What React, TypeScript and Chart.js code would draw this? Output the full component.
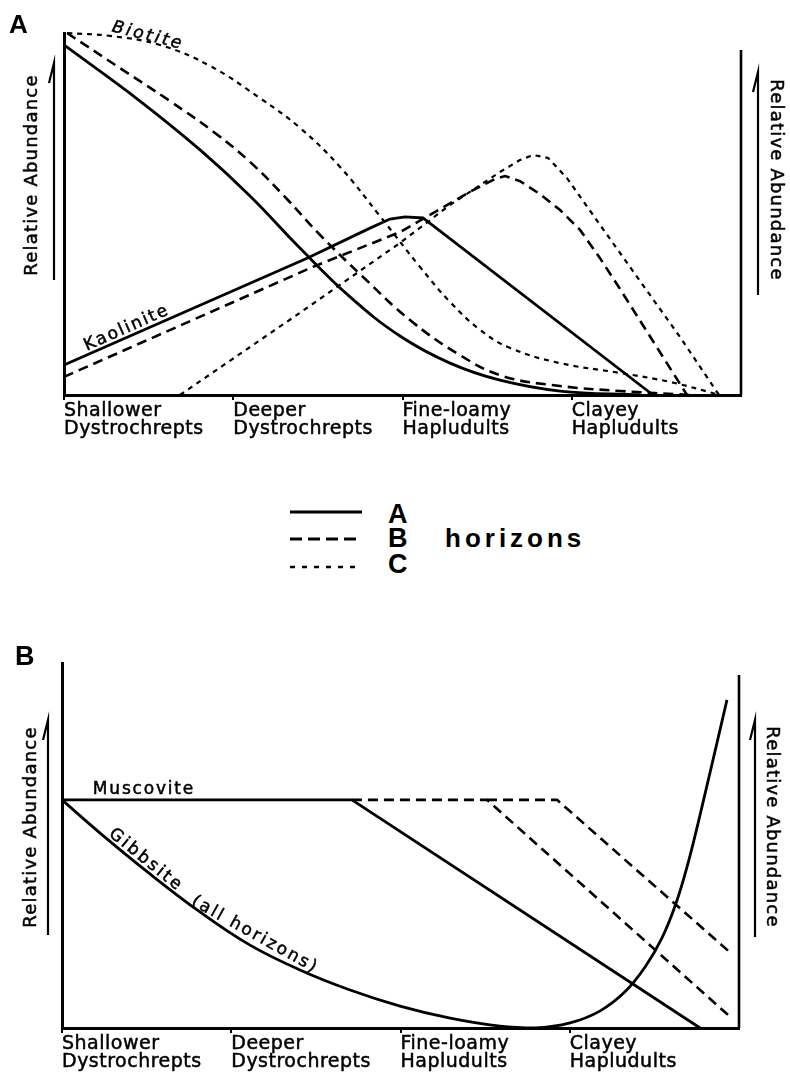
import React, { useEffect, useRef } from "react";
import { Chart, registerables } from "chart.js";

Chart.register(...registerables);

// ---------- shared categories / tick labels ----------
const categories: string[][] = [
  ["Shallower", "Dystrochrepts"],
  ["Deeper", "Dystrochrepts"],
  ["Fine-loamy", "Hapludults"],
  ["Clayey", "Hapludults"],
];
const tickPositions = [0, 1, 2, 3];
const axisTitle = "Relative Abundance";

// ---------- Panel A values (x: soil position 0..4, y: relative abundance 0..100) ----------
const biotiteA_x = [0, 0.449, 0.804, 1.099, 1.394, 1.69, 1.985, 2.281, 2.576, 2.931, 3.403];
const biotiteA_y = [96.7, 81.2, 67.7, 55.0, 40.6, 27.1, 16.3, 8.8, 4.1, 1.1, 0];
const biotiteB_x = [0.018, 0.331, 0.626, 0.892, 1.099, 1.306, 1.513, 1.767, 2.044, 2.34, 2.594, 2.931, 3.285, 3.699];
const biotiteB_y = [100, 90.3, 81.2, 72.4, 64.4, 54.7, 44.2, 32.6, 20.7, 11.0, 5.2, 2.5, 1.1, 0];
const biotiteC_x = [0.018, 0.272, 0.567, 0.863, 1.158, 1.394, 1.631, 1.867, 2.103, 2.281, 2.458, 2.635, 2.931, 3.285, 3.581, 3.876];
const biotiteC_y = [100, 99.2, 96.7, 90.9, 82.0, 73.8, 63.0, 49.4, 35.4, 25.7, 18.0, 13.0, 8.8, 6.1, 3.6, 0];

const kaolA_x = [0, 1.436, 1.808, 1.926, 2.015, 2.121, 3.48];
const kaolA_y = [8.3, 37.8, 46.1, 48.6, 49.2, 48.9, 0];
const kaolB_x = [0, 1.471, 1.985, 2.417, 2.547, 2.606, 2.694, 2.812, 2.931, 3.049, 3.167, 3.285, 3.681];
const kaolB_y = [5.0, 35.4, 45.0, 56.6, 59.7, 60.5, 59.1, 55.5, 51.1, 45.6, 37.8, 29.3, 0];
const kaolC_x = [0.685, 1.394, 1.985, 2.281, 2.576, 2.694, 2.771, 2.86, 2.972, 3.167, 3.403, 3.64, 3.87];
const kaolC_y = [0, 22.7, 42.0, 52.5, 61.6, 64.9, 66.3, 65.5, 59.9, 47.0, 31.5, 16.0, 0];

const rightAxisA_x = [4, 4];
const rightAxisA_y = [0, 95.3];

// ---------- Panel B values ----------
const gibbsite_x = [0, 0.225, 0.52, 0.815, 1.111, 1.406, 1.702, 1.997, 2.293, 2.588, 2.795, 3.002, 3.18, 3.326, 3.445, 3.545, 3.628, 3.699, 3.77, 3.929];
const gibbsite_y = [62.5, 53.4, 42.2, 31.8, 22.7, 15.9, 10.4, 6.0, 2.7, 0.5, 0, 1.4, 4.7, 9.9, 16.7, 24.7, 34.2, 45.2, 58.4, 89.9];
const muscA_x = [0, 1.713, 3.77];
const muscA_y = [62.5, 62.5, 0];
const muscB_x = [1.713, 2.511, 3.935];
const muscB_y = [62.5, 62.5, 3.6];
const muscC_x = [2.511, 2.925, 3.94];
const muscC_y = [62.5, 62.5, 21.0];

const rightAxisB_x = [4, 4];
const rightAxisB_y = [0, 96.7];

// ---------- styles ----------
const SOLID = { w: 2.8, dash: [] as number[] };
const DASH_B = { w: 2.6, dash: [10, 6] };
const DASH_C = { w: 2.2, dash: [5, 5] };
const FONT = '"DejaVu Sans", "Noto Sans", sans-serif';
const TEXT_STROKE = 0.5;

function series(xs: number[], ys: number[], style: { w: number; dash: number[] }, smooth: boolean) {
  return {
    data: xs.map((x, i) => ({ x, y: ys[i] })),
    borderColor: "#000",
    backgroundColor: "#000",
    borderWidth: style.w,
    borderDash: style.dash,
    tension: smooth ? 0.4 : 0,
    pointRadius: 0,
    fill: false,
    clip: false,
    borderCapStyle: "butt",
  };
}

const datasetsA = [
  series(biotiteA_x, biotiteA_y, SOLID, true),
  series(biotiteB_x, biotiteB_y, DASH_B, true),
  series(biotiteC_x, biotiteC_y, DASH_C, true),
  series(kaolA_x, kaolA_y, SOLID, false),
  series(kaolB_x, kaolB_y, DASH_B, false),
  series(kaolC_x, kaolC_y, DASH_C, false),
  series(rightAxisA_x, rightAxisA_y, { w: 2.6, dash: [] }, false),
];

const datasetsB = [
  series(gibbsite_x, gibbsite_y, SOLID, true),
  series(muscA_x, muscA_y, SOLID, false),
  series(muscB_x, muscB_y, DASH_B, false),
  series(muscC_x, muscC_y, DASH_B, false),
  series(rightAxisB_x, rightAxisB_y, { w: 2.6, dash: [] }, false),
];

type CurveLabel = { text: string; x: number; y: number; angle: number; italic?: boolean; spacing: number };

const labelsA: CurveLabel[] = [
  { text: "Biotite", x: 0.496, y: 99.2, angle: 14, italic: true, spacing: 2.6 },
  { text: "Kaolinite", x: 0.372, y: 18.5, angle: -24, spacing: 2 },
];
const labelsB: CurveLabel[] = [
  { text: "Muscovite", x: 0.484, y: 65.2, angle: 0, spacing: 1.8 },
  { text: "Gibbsite", x: 0.496, y: 46.0, angle: 39, spacing: 2.5 },
  { text: "(all horizons)", x: 1.14, y: 25.5, angle: 29, spacing: 2.3 },
];

type Decor = {
  letter: string;
  letterDx: number;
  letterDy: number;
  letterSize: number;
  left: { ax: number; tip: number; bottom: number; tx: number; ty: number };
  right: { ax: number; tip: number; bottom: number; tx: number; ty: number };
  labels: CurveLabel[];
};

function makeDecor(cfg: Decor) {
  return {
    id: "decor",
    beforeDraw(chart: any) {
      (chart.ctx as any).letterSpacing = "0.5px";
    },
    afterDraw(chart: any) {
      const ctx = chart.ctx as any;
      const a = chart.chartArea;
      const sx = chart.scales.x;
      const sy = chart.scales.y;
      ctx.save();
      ctx.fillStyle = "#000";
      ctx.strokeStyle = "#000";
      ctx.setLineDash([]);

      const text = (s: string, x: number, y: number) => {
        ctx.lineWidth = TEXT_STROKE;
        ctx.fillText(s, x, y);
        ctx.strokeText(s, x, y);
      };

      // panel letter
      ctx.letterSpacing = "0px";
      ctx.font = `bold ${cfg.letterSize}px "Liberation Sans", Arial, sans-serif`;
      ctx.textAlign = "left";
      ctx.textBaseline = "alphabetic";
      ctx.fillText(cfg.letter, a.left + cfg.letterDx, a.top + cfg.letterDy);

      // side titles
      ctx.font = `18px ${FONT}`;
      ctx.letterSpacing = "1.2px";
      ctx.textAlign = "center";
      ctx.textBaseline = "middle";
      ctx.save();
      ctx.translate(a.left + cfg.left.tx, a.top + cfg.left.ty);
      ctx.rotate(-Math.PI / 2);
      text(axisTitle, 0, 0);
      ctx.restore();
      ctx.save();
      ctx.translate(a.right + cfg.right.tx, a.top + cfg.right.ty);
      ctx.rotate(Math.PI / 2);
      text(axisTitle, 0, 0);
      ctx.restore();

      // arrows
      ctx.lineWidth = 2.2;
      const arrow = (x: number, tip: number, bottom: number) => {
        ctx.beginPath();
        ctx.moveTo(x, bottom);
        ctx.lineTo(x, tip);
        ctx.lineTo(x - 5, tip + 20);
        ctx.stroke();
      };
      arrow(a.left + cfg.left.ax, a.top + cfg.left.tip, a.top + cfg.left.bottom);
      arrow(a.right + cfg.right.ax, a.top + cfg.right.tip, a.top + cfg.right.bottom);

      // curve labels
      for (const l of cfg.labels) {
        const px = sx.getPixelForValue(l.x);
        const py = sy.getPixelForValue(l.y);
        ctx.save();
        ctx.translate(px, py);
        ctx.rotate((l.angle * Math.PI) / 180);
        ctx.font = `${l.italic ? "italic " : ""}17px ${FONT}`;
        ctx.letterSpacing = `${l.spacing}px`;
        ctx.textAlign = "center";
        ctx.textBaseline = "middle";
        text(l.text, 0, 0);
        ctx.restore();
      }
      ctx.restore();
    },
  };
}

function buildOptions(padding: any) {
  return {
    responsive: false,
    animation: false,
    events: [],
    layout: { padding },
    plugins: {
      legend: { display: false },
      tooltip: { enabled: false },
      title: { display: false },
    },
    elements: { point: { radius: 0 } },
    scales: {
      x: {
        type: "linear",
        min: 0,
        max: 4,
        afterBuildTicks: (scale: any) => {
          scale.ticks = tickPositions.map((v) => ({ value: v }));
        },
        afterFit: (scale: any) => {
          scale.height = 45;
        },
        grid: {
          display: true,
          drawOnChartArea: false,
          drawTicks: true,
          tickLength: 5,
          color: "#000",
          lineWidth: 2,
        },
        border: { display: true, color: "#000", width: 3 },
        ticks: {
          align: "start",
          maxRotation: 0,
          minRotation: 0,
          autoSkip: false,
          padding: 2,
          color: "#000",
          textStrokeColor: "#000",
          textStrokeWidth: TEXT_STROKE,
          font: { family: FONT, size: 19, lineHeight: 0.95 },
          callback: (v: any) => categories[v] ?? "",
        },
      },
      y: {
        min: 0,
        max: 100,
        grid: { display: false },
        ticks: { display: false },
        border: { display: true, color: "#000", width: 3 },
        afterFit: (scale: any) => {
          scale.width = 0;
        },
      },
    },
  };
}

function Panel(props: { top: number; height: number; datasets: any[]; padding: any; decor: Decor }) {
  const ref = useRef<HTMLCanvasElement>(null);
  useEffect(() => {
    const chart = new Chart(ref.current as HTMLCanvasElement, {
      type: "line",
      data: { datasets: props.datasets } as any,
      options: buildOptions(props.padding) as any,
      plugins: [makeDecor(props.decor) as any],
    });
    return () => chart.destroy();
  }, []);
  return (
    <canvas
      ref={ref}
      width={790}
      height={props.height}
      style={{ position: "absolute", left: 0, top: props.top, width: 790, height: props.height }}
    />
  );
}

const decorA: Decor = {
  letter: "A",
  letterDx: -55,
  letterDy: 0,
  letterSize: 26,
  left: { ax: -10, tip: 30, bottom: 247, tx: -32, ty: 142 },
  right: { ax: 17, tip: 39, bottom: 262, tx: 35, ty: 147 },
  labels: labelsA,
};

const decorB: Decor = {
  letter: "B",
  letterDx: -47,
  letterDy: 2,
  letterSize: 27,
  left: { ax: -14, tip: 57, bottom: 272, tx: -31, ty: 164 },
  right: { ax: 16, tip: 57, bottom: 274, tx: 33, ty: 164 },
  labels: labelsB,
};

function Legend() {
  const letterStyle = { fontFamily: '"Liberation Sans", Arial, sans-serif', fontWeight: 700, fontSize: 27 } as any;
  return (
    <svg width={790} height={110} style={{ position: "absolute", left: 0, top: 480 }}>
      <line x1={290} y1={32} x2={362} y2={32} stroke="#000" strokeWidth={3} />
      <line x1={290} y1={59} x2={356} y2={59} stroke="#000" strokeWidth={3} strokeDasharray="12 6" />
      <line x1={290} y1={87} x2={360} y2={87} stroke="#000" strokeWidth={2.5} strokeDasharray="5 7" />
      <text x={388} y={43} style={letterStyle}>A</text>
      <text x={388} y={67} style={letterStyle}>B</text>
      <text x={388} y={93} style={letterStyle}>C</text>
      <text
        x={445}
        y={67}
        style={{ fontFamily: '"Liberation Sans", Arial, sans-serif', fontWeight: 700, fontSize: 26, letterSpacing: "4px" }}
      >
        horizons
      </text>
    </svg>
  );
}

export default function App() {
  return (
    <div style={{ position: "absolute", left: 0, top: 0, width: 790, height: 1076, background: "#fff", overflow: "hidden" }}>
      <Panel top={0} height={450} datasets={datasetsA} padding={{ left: 64, right: 49, top: 33, bottom: 10 }} decor={decorA} />
      <Legend />
      <Panel top={620} height={456} datasets={datasetsB} padding={{ left: 62, right: 51, top: 43, bottom: 3 }} decor={decorB} />
    </div>
  );
}
